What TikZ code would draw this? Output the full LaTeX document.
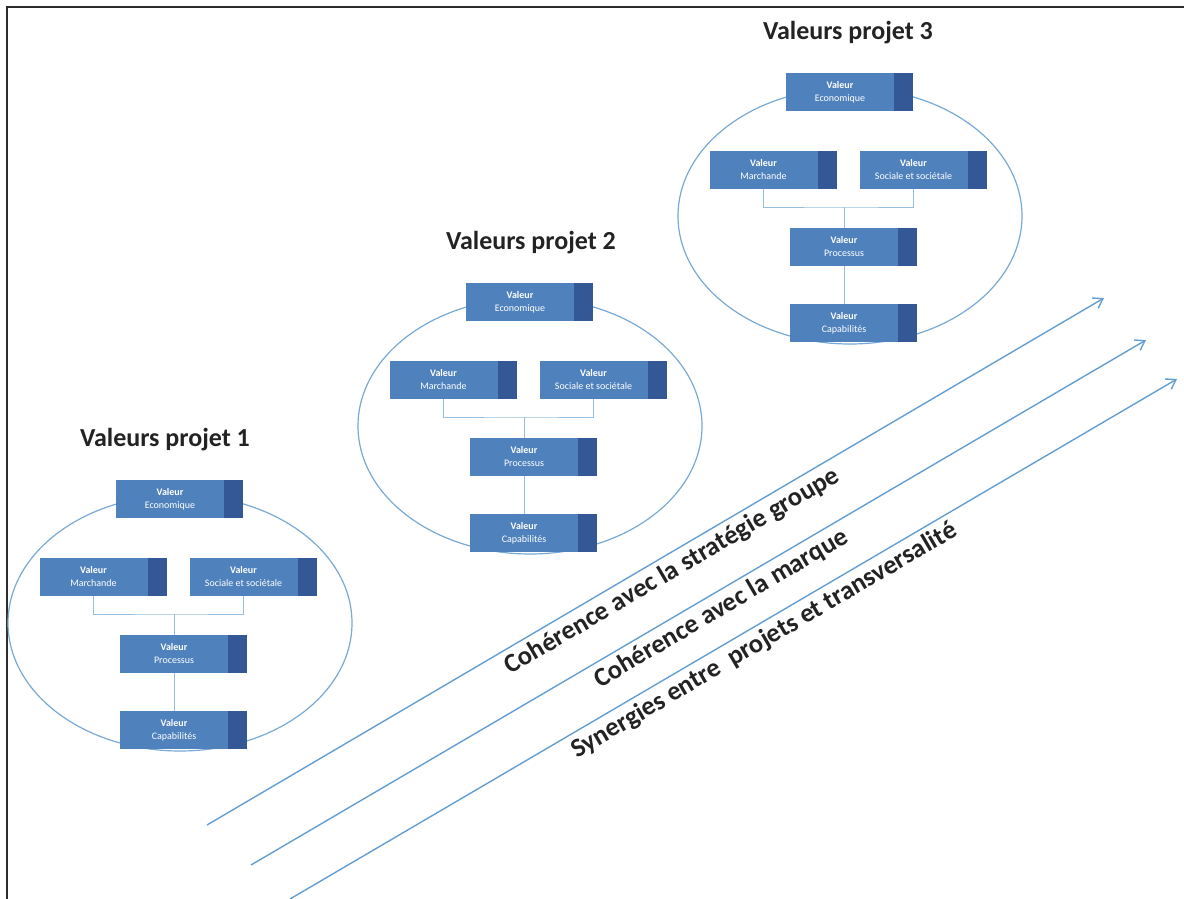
\documentclass[tikz,border=0pt]{standalone}
\usepackage{fontspec}
\setmainfont{Carlito}
\usepackage{tikz}
\usetikzlibrary{arrows.meta}
\usetikzlibrary{positioning}

\definecolor{boxblue}{RGB}{79,129,189}
\definecolor{boxdark}{RGB}{52,88,150}
\definecolor{ringblue}{RGB}{120,168,212}
\definecolor{linkblue}{RGB}{150,190,225}
\definecolor{flowblue}{RGB}{100,158,210}
\definecolor{inkgray}{RGB}{35,35,35}
\definecolor{framegray}{RGB}{45,45,45}

\begin{document}
\begin{tikzpicture}[x=1pt, y=-1pt,
    valbox/.style={fill=boxblue, text=white, minimum width=108pt, minimum height=38pt,
        inner sep=0pt, align=center, font=\fontsize{10}{13}\selectfont},
    valtab/.style={fill=boxdark, minimum width=19pt, minimum height=38pt, inner sep=0pt},
    ring/.style={draw=ringblue, line width=1.2pt},
    link/.style={draw=linkblue, line width=1pt},
    flow/.style={draw=flowblue, line width=1.4pt, -{Straight Barb[length=9pt, width=12pt]}},
    titre/.style={font=\fontsize{26}{31}\selectfont\bfseries, text=inkgray},
    axe/.style={font=\fontsize{26.5}{31}\selectfont\bfseries, text=inkgray, sloped, below=1.5pt}]
    \useasboundingbox (0,0) rectangle (1184,899);
    \draw[line width=2.2pt, framegray] (1184,7) -- (7,7) -- (7,899);
    \foreach \k/\dx/\dy/\tx in {1/0/0/165, 2/350/-197/181, 3/670/-407/178} {
        \begin{scope}[shift={(\dx,\dy)}]
            \node[titre] (titre\k) at (\tx,440) {Valeurs projet \k};
            \draw[ring] (180,623) ellipse [x radius=172, y radius=128];
            \node[valbox] (eco\k) at (170,499) {\textbf{Valeur}\\Economique};
            \node[valbox] (mar\k) at (93.5,577) {\textbf{Valeur}\\Marchande};
            \node[valbox] (soc\k) at (243.5,577) {\textbf{Valeur}\\Sociale et sociétale};
            \node[valbox] (pro\k) at (174,654) {\textbf{Valeur}\\Processus};
            \node[valbox] (cap\k) at (174,730) {\textbf{Valeur}\\Capabilités};
            \foreach \b in {eco,mar,soc,pro,cap}
                \node[valtab, right=0pt of \b\k] (\b\k-tab) {};
            \coordinate (j\k) at (174,614);
            \draw[link] (mar\k.south) |- (j\k) -| (soc\k.south);
            \draw[link] (j\k) -- (pro\k.north);
            \draw[link] (pro\k) -- (cap\k);
        \end{scope}
    }
    \coordinate (s1) at (207,825);
    \coordinate (t1) at (1104,298);
    \coordinate (s2) at (251,865);
    \coordinate (t2) at (1146,340);
    \coordinate (s3) at (290,899);
    \coordinate (t3) at (1177,379);
    \draw[flow] (s1) -- node[axe, pos=0.509] (axe1) {Cohérence avec la stratégie groupe} (t1);
    \draw[flow] (s2) -- node[axe, pos=0.516] (axe2) {Cohérence avec la marque} (t2);
    \draw[flow] (s3) -- node[axe, pos=0.525] (axe3) {Synergies entre\ \ projets et transversalité} (t3);
\end{tikzpicture}
\end{document}
